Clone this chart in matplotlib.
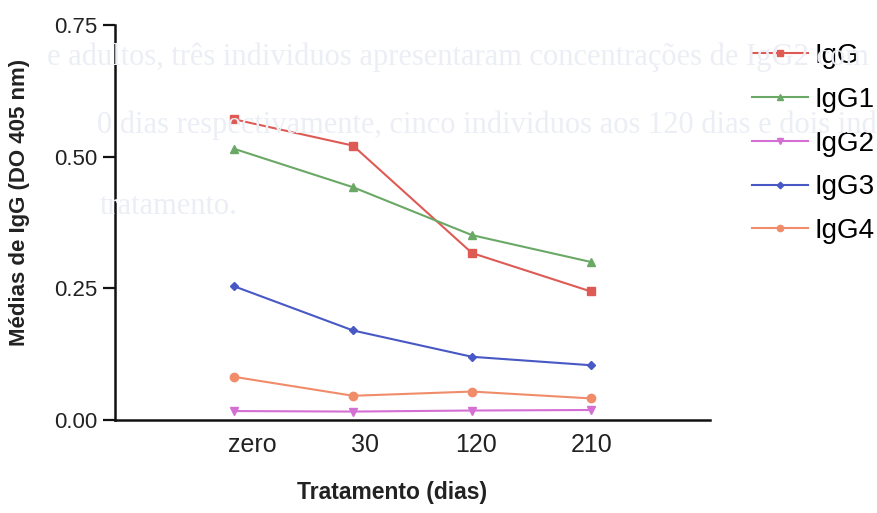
import numpy as np
import matplotlib.pyplot as plt
import matplotlib.transforms as mtransforms

plt.rcParams['font.family'] = ['Liberation Sans', 'DejaVu Sans']

# Data
tratamento = ['zero', '30', '120', '210']
igg = [0.571, 0.521, 0.317, 0.244]
igg1 = [0.515, 0.442, 0.351, 0.300]
igg2 = [0.017, 0.016, 0.018, 0.019]
igg3 = [0.254, 0.170, 0.120, 0.104]
igg4 = [0.082, 0.046, 0.054, 0.041]
y_ticks = [0.00, 0.25, 0.50, 0.75]

# faint text showing through from the scanned page
bleed_lines = [
    'e adultos, três individuos apresentaram concentrações de IgG2 com',
    '0 dias respectivamente, cinco individuos aos 120 dias e dois indi',
    'tratamento.',
]

series = [
    ('IgG', igg, '#de5a55', 's', 6),
    ('IgG1', igg1, '#6aa865', '^', 6),
    ('IgG2', igg2, '#d46fd4', 'v', 6),
    ('IgG3', igg3, '#4858c4', 'D', 4.5),
    ('IgG4', igg4, '#f08c6a', 'o', 6),
]

fig = plt.figure(figsize=(8.77, 5.13), dpi=100)
W, H = 877, 513

# background bleed-through text
for txt, (px, py) in zip(bleed_lines, [(47, 57), (97, 125), (100, 207)]):
    fig.text(px / W, 1 - py / H, txt, fontsize=22, family=['Liberation Serif'],
             color='#eceef5', va='center', ha='left', zorder=0)

ax = fig.add_axes([115 / W, 1 - 420 / H, (710 - 115) / W, (420 - 25) / H])
ax.patch.set_alpha(0)

x = np.arange(1, len(tratamento) + 1)
for name, vals, color, marker, ms in series:
    ax.plot(x, vals, color=color, lw=1.5, marker=marker, ms=ms,
            mec=color, mfc=color, label=name, clip_on=False)

ax.set_xlim(0, 5)
ax.set_ylim(0, 0.75)
ax.set_yticks(y_ticks)
ax.set_yticklabels(['%.2f' % v for v in y_ticks])
ax.set_xticks(x)
ax.set_xticklabels(tratamento)

for side in ['top', 'right']:
    ax.spines[side].set_visible(False)
for side in ['left', 'bottom']:
    ax.spines[side].set_linewidth(1.8)
    ax.spines[side].set_color('#111111')

ax.tick_params(axis='y', length=9, width=1.6, pad=4, labelsize=16,
               labelcolor='#222222', color='#111111')
ax.tick_params(axis='x', length=0, pad=9, labelsize=18, labelcolor='#222222')

# small horizontal shifts of the category labels as in the original
shifts = [18, 12, 4, 1]
for lab, dx in zip(ax.get_xticklabels(), shifts):
    lab.set_transform(lab.get_transform() +
                      mtransforms.ScaledTranslation(dx / 100, 0, fig.dpi_scale_trans))

fig.text(20 / W, 1 - 202 / H, 'Médias de IgG (DO 405 nm)', rotation=90,
         fontsize=16, fontweight='bold', color='#222222', ha='center', va='center')
fig.text(392 / W, 1 - 493 / H, 'Tratamento (dias)', fontsize=16.5,
         fontweight='bold', color='#222222', ha='center', va='center')

ax.legend(loc='upper left', bbox_to_anchor=(752 / W, 1 - 43 / H),
          bbox_transform=fig.transFigure, frameon=False, fontsize=20,
          handlelength=2.0, handletextpad=0.25, labelspacing=0.64,
          borderpad=0, borderaxespad=0, markerscale=0.75)

fig.savefig('out.png', dpi=100)
